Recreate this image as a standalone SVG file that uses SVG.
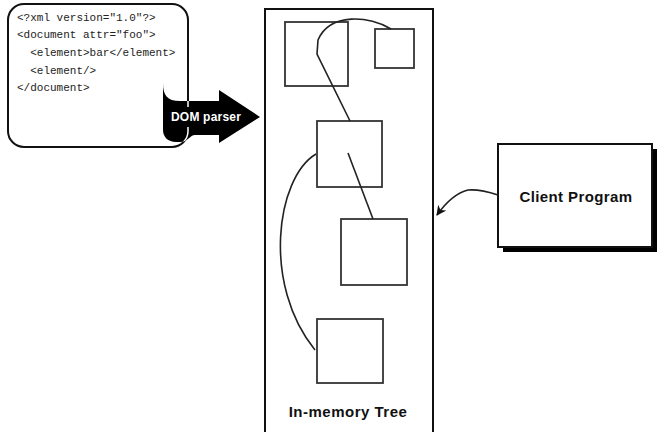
<svg xmlns="http://www.w3.org/2000/svg" width="668" height="432" viewBox="0 0 668 432">
<style>
.code{font-family:"Liberation Mono","DejaVu Sans Mono",monospace;font-size:11px;fill:#222}
.lbl{font-family:"Liberation Sans",Arial,sans-serif;font-weight:bold;fill:#111}
.node{fill:none;stroke:#333;stroke-width:1.8}
.conn{fill:none;stroke:#222;stroke-width:1.6}
</style>
<defs>
<marker id="ah" viewBox="0 0 10 10" refX="9" refY="5" markerWidth="10" markerHeight="10" markerUnits="userSpaceOnUse" orient="auto">
<path d="M0,0 L10,5 L0,10 L3,5 Z" fill="#111"/>
</marker>
<clipPath id="arrowClip">
<path d="M163,83 C163,95 167,101 180,101 L219,101 L219,90 L260,117 L219,143 L219,135 L195,135 C190,135 188,142 180,142 L176,142 C168,142 163,137 163,130 Z"/>
</clipPath>
</defs>
<rect width="668" height="432" fill="#fff"/>

<g id="xml-document">
<rect x="8" y="4" width="180" height="143" rx="16" ry="16" fill="#fff" stroke="#111" stroke-width="2"/>
<text class="code" x="17" y="21">&lt;?xml version="1.0"?&gt;</text>
<text class="code" x="17" y="38">&lt;document attr="foo"&gt;</text>
<text class="code" x="17" y="56" xml:space="preserve">  &lt;element&gt;bar&lt;/element&gt;</text>
<text class="code" x="17" y="74" xml:space="preserve">  &lt;element/&gt;</text>
<text class="code" x="17" y="91">&lt;/document&gt;</text>
</g>

<g id="dom-parser">
<path d="M163,83 C163,95 167,101 180,101 L219,101 L219,90 L260,117 L219,143 L219,135 L195,135 C190,135 188,142 180,142 L176,142 C168,142 163,137 163,130 Z" fill="#000"/>
<path d="M188,80 L188,107 M188,127 L188,131 A16,16 0 0 1 172,147" fill="none" stroke="#fff" stroke-width="1.5" clip-path="url(#arrowClip)"/>
<text class="lbl" x="206" y="121" font-size="12" letter-spacing="0.2" text-anchor="middle" style="fill:#fff">DOM parser</text>
</g>

<g id="in-memory-tree">
<rect x="265" y="9" width="168" height="440" fill="#fff" stroke="#111" stroke-width="2"/>
<text class="lbl" x="348" y="417" font-size="15" letter-spacing="0.5" text-anchor="middle">In-memory Tree</text>
</g>

<g id="tree-node-1"><rect class="node" x="285" y="22" width="63" height="64"/></g>
<g id="tree-node-2"><rect class="node" x="375" y="29" width="39" height="39"/></g>
<g id="tree-node-3"><rect class="node" x="317" y="121" width="65" height="66"/></g>
<g id="tree-node-4"><rect class="node" x="341" y="219" width="66" height="66"/></g>
<g id="tree-node-5"><rect class="node" x="317" y="319" width="66" height="64"/></g>

<g id="client-program">
<rect x="503" y="149" width="154" height="103" fill="#000"/>
<rect x="498" y="144" width="154" height="103" fill="#fff" stroke="#111" stroke-width="2"/>
<text class="lbl" x="576" y="202" font-size="15" letter-spacing="0.4" text-anchor="middle">Client Program</text>
</g>

<g id="connectors">
<path class="conn" d="M391,29 C370,16 330,12 318,40 L317,54 L350,121"/>
<path class="conn" d="M348,153 L373,219"/>
<path class="conn" d="M316,154 C276,178 262,285 315,350"/>
<path class="conn" stroke-width="2" d="M498,195 Q480,189 468,190 Q452,194 437,215" marker-end="url(#ah)"/>
</g>
</svg>
